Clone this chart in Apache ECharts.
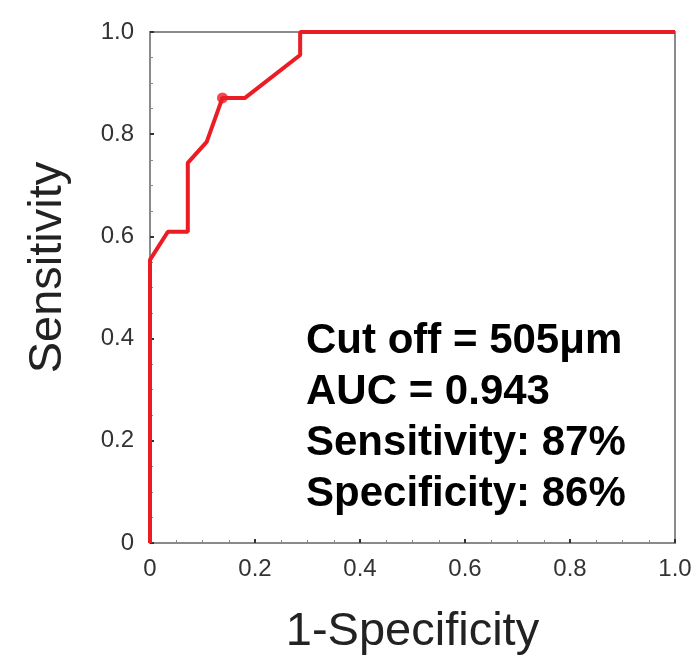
<!DOCTYPE html>
<html>
<head>
<meta charset="utf-8">
<script src="https://cdn.jsdelivr.net/npm/echarts@6/dist/echarts.min.js"></script>
<style>
  html, body { margin: 0; padding: 0; background: #fff; }
  #roc { width: 698px; height: 671px; }
</style>
</head>
<body>
<div id="roc"></div>
<script>
  // ROC curve
  var fpr = [0, 0, 0.034, 0.072, 0.072, 0.108, 0.138, 0.181, 0.286, 0.286, 1];
  var tpr = [0, 0.554, 0.609, 0.609, 0.744, 0.785, 0.871, 0.871, 0.955, 1, 1];
  var cutPoint = [0.138, 0.871];   // chosen cut off
  var infoLines = ['Cut off = 505μm', 'AUC = 0.943', 'Sensitivity: 87%', 'Specificity: 86%'];

  var rocChart = echarts.init(document.getElementById('roc'));

  var curve = [];
  for (var i = 0; i < fpr.length; i++) {
    curve.push([fpr[i], tpr[i]]);
  }

  var fmt = function (v) { return v === 0 ? '0' : v.toFixed(1); };

  rocChart.setOption({
    animation: false,
    grid: {
      left: 150, right: 23, top: 32, bottom: 128,
      show: true, borderColor: '#8a8a8a', borderWidth: 2, backgroundColor: '#fff'
    },
    xAxis: {
      type: 'value', min: 0, max: 1, interval: 0.2,
      name: '1-Specificity', nameLocation: 'middle', nameGap: 66,
      nameTextStyle: { fontFamily: 'Liberation Sans', fontSize: 47, color: '#222' },
      axisLine: { lineStyle: { color: '#8a8a8a', width: 2 } },
      axisTick: { inside: true, length: 4, lineStyle: { color: '#333', width: 2 } },
      minorTick: { show: true, splitNumber: 4, length: 3, lineStyle: { color: '#888' } },
      splitLine: { show: false },
      axisLabel: { formatter: fmt, margin: 14, fontFamily: 'Liberation Sans', fontSize: 24, color: '#333' }
    },
    yAxis: {
      type: 'value', min: 0, max: 1, interval: 0.2,
      name: 'Sensitivity', nameLocation: 'middle', nameGap: 78,
      nameTextStyle: { fontFamily: 'Liberation Sans', fontSize: 47, color: '#222', padding: [0, 0, 0, 40] },
      axisLine: { lineStyle: { color: '#8a8a8a', width: 2 } },
      axisTick: { inside: true, length: 4, lineStyle: { color: '#333', width: 2 } },
      minorTick: { show: true, splitNumber: 4, length: 3, lineStyle: { color: '#888' } },
      splitLine: { show: false },
      axisLabel: { formatter: fmt, margin: 16, fontFamily: 'Liberation Sans', fontSize: 24, color: '#333' }
    },
    series: [
      {
        type: 'line', data: curve, symbol: 'none',
        lineStyle: { color: '#ec1c24', width: 4 }
      },
      {
        type: 'scatter', data: [cutPoint], symbolSize: 11,
        itemStyle: { color: '#ec1c24' }
      }
    ],
    graphic: [{
      type: 'text', left: 306, top: 316,
      style: {
        text: infoLines.join('\n'),
        font: 'bold 42px "Liberation Sans"',
        lineHeight: 51,
        fill: '#000'
      }
    }]
  });
</script>
</body>
</html>
